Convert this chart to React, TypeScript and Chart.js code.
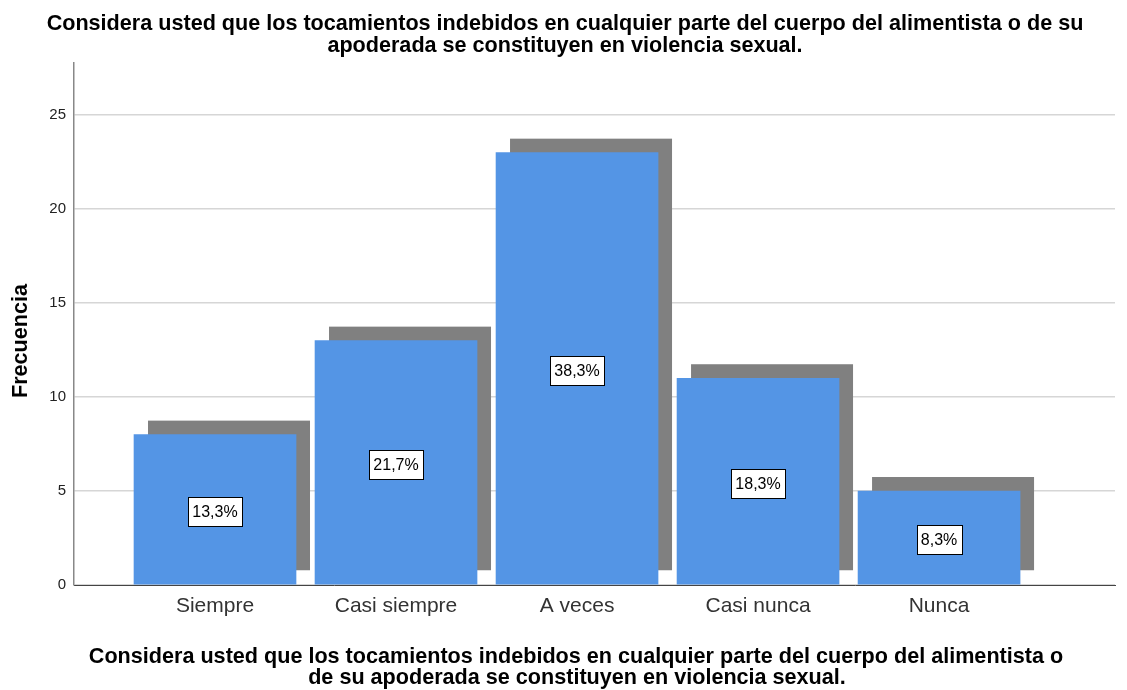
import React, { useEffect, useRef } from "react";
import { Chart, registerables } from "chart.js";

Chart.register(...registerables);

const categories = ["Siempre", "Casi siempre", "A veces", "Casi nunca", "Nunca"];
const frequencies = [8, 13, 23, 11, 5];
const percentLabels = ["13,3%", "21,7%", "38,3%", "18,3%", "8,3%"];
const yTicks = [0, 5, 10, 15, 20, 25];
const titleLines = [
  "Considera usted que los tocamientos indebidos en cualquier parte del cuerpo del alimentista o de su",
  "apoderada se constituyen en violencia sexual.",
];
const xTitleLines = [
  "Considera usted que los tocamientos indebidos en cualquier parte del cuerpo del alimentista o",
  "de su apoderada se constituyen en violencia sexual.",
];
const yTitle = "Frecuencia";

const FONT = "'Liberation Sans', Arial, sans-serif";
const BAR_COLOR = "#5495E5";
const SHADOW_COLOR = "#808080";
const SHADOW_OFFSET = 14;

const shadowPlugin = {
  id: "barShadow",
  beforeDatasetsDraw(chart: any) {
    const ctx = chart.ctx;
    const meta = chart.getDatasetMeta(0);
    ctx.save();
    ctx.fillStyle = SHADOW_COLOR;
    meta.data.forEach((bar: any) => {
      const p = bar.getProps(["x", "y", "base", "width"], true);
      ctx.fillRect(p.x - p.width / 2 + SHADOW_OFFSET, p.y - SHADOW_OFFSET, p.width, p.base - p.y);
    });
    ctx.restore();
  },
};

const labelPlugin = {
  id: "pctLabels",
  afterDatasetsDraw(chart: any) {
    const ctx = chart.ctx;
    const meta = chart.getDatasetMeta(0);
    ctx.save();
    ctx.font = `16px ${FONT}`;
    ctx.textAlign = "center";
    ctx.textBaseline = "middle";
    meta.data.forEach((bar: any, i: number) => {
      const p = bar.getProps(["x", "y", "base"], true);
      const cy = (p.y + p.base) / 2 + 2;
      const txt = percentLabels[i];
      const w = Math.round(ctx.measureText(txt).width + 9);
      const h = 29;
      const left = Math.round(p.x - w / 2) + 0.5;
      const top = Math.round(cy - h / 2) + 0.5;
      ctx.fillStyle = "#ffffff";
      ctx.fillRect(left, top, w, h);
      ctx.strokeStyle = "#000000";
      ctx.lineWidth = 1;
      ctx.strokeRect(left, top, w, h);
      ctx.fillStyle = "#000000";
      ctx.fillText(txt, p.x, cy + 1);
    });
    ctx.restore();
  },
};

const titlePlugin = {
  id: "titles",
  afterDraw(chart: any) {
    const ctx = chart.ctx;
    ctx.save();
    ctx.fillStyle = "#000000";
    ctx.font = `bold 21.6px ${FONT}`;
    ctx.textAlign = "center";
    ctx.textBaseline = "alphabetic";
    ctx.fillText(titleLines[0], 565, 30);
    ctx.fillText(titleLines[1], 565, 52);
    ctx.fillText(xTitleLines[0], 576, 663);
    ctx.fillText(xTitleLines[1], 577, 684);
    ctx.translate(27, 341);
    ctx.rotate(-Math.PI / 2);
    ctx.fillText(yTitle, 0, 0);
    ctx.restore();
  },
};

export default function App() {
  const ref = useRef<HTMLCanvasElement | null>(null);
  useEffect(() => {
    if (!ref.current) return;
    const chart = new Chart(ref.current, {
      type: "bar",
      data: {
        datasets: [
          {
            data: frequencies.map((v, i) => ({ x: i, y: v })),
            backgroundColor: BAR_COLOR,
            borderWidth: 0,
            barThickness: 162,
          },
        ],
      },
      options: {
        responsive: false,
        animation: false,
        layout: { padding: { top: 63, left: 0, right: 12, bottom: 0 } },
        plugins: {
          legend: { display: false },
          tooltip: { enabled: false },
          title: { display: false },
        },
        scales: {
          x: {
            type: "linear",
            offset: false,
            min: -0.779,
            max: 4.972,
            afterFit(scale: any) {
              scale.height = 105;
            },
            afterBuildTicks(scale: any) {
              scale.ticks = categories.map((_, i) => ({ value: i }));
            },
            ticks: {
              autoSkip: false,
              maxRotation: 0,
              padding: 9,
              color: "#333333",
              font: { family: FONT, size: 21 },
              callback: (v: any) => categories[v as number] ?? "",
            },
            grid: { display: false, drawTicks: false, offset: false },
            border: { color: "#444444", width: 1 },
          },
          y: {
            min: 0,
            max: 27.77,
            afterFit(scale: any) {
              scale.width = 74;
            },
            afterBuildTicks(scale: any) {
              scale.ticks = yTicks.map((v) => ({ value: v }));
            },
            ticks: {
              padding: 8,
              color: "#222222",
              font: { family: FONT, size: 15 },
            },
            grid: { color: "#d6d6d6", drawTicks: false, lineWidth: 1.5 },
            border: { color: "#888888", width: 1.5 },
          },
        },
      },
      plugins: [shadowPlugin, labelPlugin, titlePlugin],
    });
    return () => chart.destroy();
  }, []);
  return (
    <div style={{ position: "absolute", left: 0, top: 0, width: 1127, height: 690, background: "#fff" }}>
      <canvas ref={ref} width={1127} height={690} style={{ display: "block" }} />
    </div>
  );
}
